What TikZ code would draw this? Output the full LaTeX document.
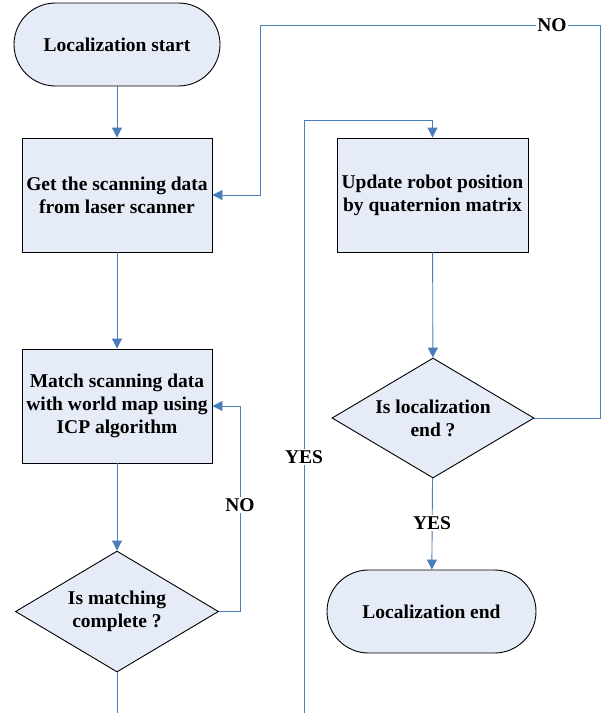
\documentclass[tikz,border=0pt]{standalone}
\usepackage{fontspec}
\setmainfont{Liberation Serif}
\usetikzlibrary{arrows.meta,shapes.geometric}
\definecolor{fillc}{HTML}{E6ECF7}
\definecolor{linec}{HTML}{4A7EBB}
\begin{document}
\begin{tikzpicture}[x=1pt,y=-1pt,
  every node/.style={font=\fontsize{19.5}{23}\selectfont\bfseries},
  term/.style={draw=black,fill=fillc,line width=0.9pt,rounded corners=41.5pt,minimum height=83pt,inner sep=0pt},
  procbox/.style={draw=black,fill=fillc,line width=0.9pt,minimum width=190pt,minimum height=114pt,inner sep=0pt,align=center},
  decide/.style={draw=black,fill=fillc,line width=0.9pt,diamond,aspect=1.68,minimum width=203pt,minimum height=121pt,inner sep=0pt,align=center},
  conn/.style={draw=linec,line width=0.9pt},
  arr/.style={conn,-{Triangle[length=10pt,width=10pt]}},
  lab/.style={fill=white,inner sep=1pt}]
\useasboundingbox (0,0) rectangle (602,713);
\node[term,minimum width=206pt] (start) at (117,44.5) {Localization start};
\node[procbox] (box1) at (117,195) {Get the scanning data\\from laser scanner};
\node[procbox] (box2) at (117,406) {Match scanning data\\with world map using\\ICP algorithm};
\node[decide] (dia1) at (117,611.5) {Is matching\\complete ?};
\node[procbox,minimum width=191pt] (box3) at (432.5,195) {Update robot position\\by quaternion matrix};
\node[decide,minimum width=202pt,minimum height=120pt] (dia2) at (433,418) {Is localization\\end ?};
\node[term,minimum width=209pt] (stop) at (431.5,611.5) {Localization end};
\coordinate (bot1) at (117,713);
\coordinate (bot2) at (304,713);
\coordinate (nr) at (600,25);
\coordinate (nl) at (260,25);
\coordinate (yt) at (304,120);
\draw[arr] (start) -- (box1);
\draw[arr] (box1) -- (box2);
\draw[arr] (box2) -- (dia1);
\draw[conn] (dia1) -- (bot1);
\draw[arr] (dia1.east) -- ++(21,0) |- (box2.east);
\draw[arr] (bot2) -- (yt) -| (box3.north);
\draw[arr] (box3) -- (dia2);
\draw[arr] (dia2) -- (stop);
\draw[arr] (dia2.east) -| (nr) -- (nl) |- (box1.east);
\node[lab] (no1) at (552,25) {NO};
\node[lab] (no2) at (240,505) {NO};
\node[lab] (yes1) at (304,457) {YES};
\node[lab] (yes2) at (432,523) {YES};
\end{tikzpicture}
\end{document}
